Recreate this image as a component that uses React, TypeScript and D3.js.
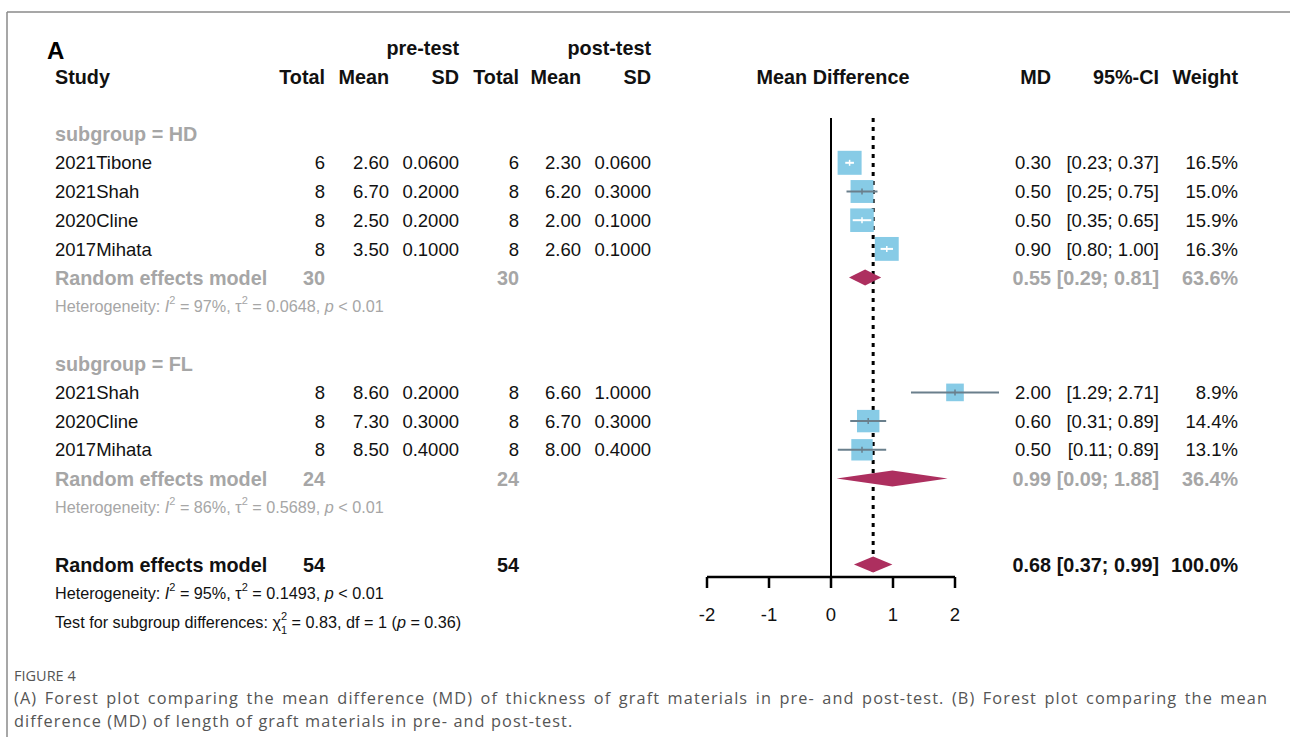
import React from "react";
import * as d3 from "d3";

// ---------- data ----------
const hdStudies = ["2021Tibone", "2021Shah", "2020Cline", "2017Mihata"];
const hdPreTotal = [6, 8, 8, 8];
const hdPreMean = ["2.60", "6.70", "2.50", "3.50"];
const hdPreSD = ["0.0600", "0.2000", "0.2000", "0.1000"];
const hdPostTotal = [6, 8, 8, 8];
const hdPostMean = ["2.30", "6.20", "2.00", "2.60"];
const hdPostSD = ["0.0600", "0.3000", "0.1000", "0.1000"];
const hdMD = [0.3, 0.5, 0.5, 0.9];
const hdLo = [0.23, 0.25, 0.35, 0.8];
const hdHi = [0.37, 0.75, 0.65, 1.0];
const hdWeight = [16.5, 15.0, 15.9, 16.3];

const flStudies = ["2021Shah", "2020Cline", "2017Mihata"];
const flPreTotal = [8, 8, 8];
const flPreMean = ["8.60", "7.30", "8.50"];
const flPreSD = ["0.2000", "0.3000", "0.4000"];
const flPostTotal = [8, 8, 8];
const flPostMean = ["6.60", "6.70", "8.00"];
const flPostSD = ["1.0000", "0.3000", "0.4000"];
const flMD = [2.0, 0.6, 0.5];
const flLo = [1.29, 0.31, 0.11];
const flHi = [2.71, 0.89, 0.89];
const flWeight = [8.9, 14.4, 13.1];

// pooled: [md, lo, hi, weight, totalPre, totalPost]
const hdPooled = [0.55, 0.29, 0.81, 63.6, 30, 30];
const flPooled = [0.99, 0.09, 1.88, 36.4, 24, 24];
const overallPooled = [0.68, 0.37, 0.99, 100.0, 54, 54];

const hdHet = ["97%", "0.0648", "< 0.01"];
const flHet = ["86%", "0.5689", "< 0.01"];
const overallHet = ["95%", "0.1493", "< 0.01"];
const subgroupTest = ["0.83", "1", "0.36"];

const xTicks = [-2, -1, 0, 1, 2];

const captionTitle = "FIGURE 4";
const captionLine1 =
  "(A) Forest plot comparing the mean difference (MD) of thickness of graft materials in pre- and post-test. (B) Forest plot comparing the mean";
const captionLine2 = "difference (MD) of length of graft materials in pre- and post-test.";

// ---------- layout ----------
const W = 1290;
const H = 737;
const FONT = "'Liberation Sans', Arial, sans-serif";
const CAP_FONT = "'Open Sans', sans-serif";
const GRAY = "#a6a6a6";
const BLACK = "#111";
const SQ = "#87cbe6";
const LINE = "#6a7f8c";
const DIAM = "#ad2f5f";
const BOLD_SIZE = 19.8;
const REG_SIZE = 18.5;
const HET_SIZE = 16.2;
const CAP_SIZE = 16.3;
const CAP_LS = 1.1;

const y = d3.scaleLinear().domain([0, 20]).range([48, 622]);
const x = d3.scaleLinear().domain([-2, 2]).range([707, 955]);
const sqScale = d3.scaleSqrt().domain([0, 16.5]).range([0, 24]);

const fmt2 = d3.format(".2f");
const fmt1 = d3.format(".1f");

const COL = {
  study: 55,
  preTotal: 325,
  preMean: 389,
  preSD: 459,
  postTotal: 519,
  postMean: 581,
  postSD: 651,
  md: 1051,
  ci: 1159,
  weight: 1238,
};

function T(props: any) {
  const { x: tx, y: ty, anchor = "end", bold = false, color = BLACK, size, children, ...rest } = props;
  return (
    <text
      x={tx}
      y={ty}
      dy="0.36em"
      textAnchor={anchor}
      fontWeight={bold ? "bold" : "normal"}
      fill={color}
      fontSize={size ?? (bold ? BOLD_SIZE : REG_SIZE)}
      fontFamily={FONT}
      {...rest}
    >
      {children}
    </text>
  );
}

function StudyRow(props: any) {
  const { row, name, pt, pm, ps, qt, qm, qs, md, lo, hi, w } = props;
  const cy = y(row);
  const s = sqScale(w);
  const cx = x(md);
  const inside = x(lo) >= cx - s / 2 && x(hi) <= cx + s / 2;
  return (
    <g>
      <T x={COL.study} y={cy} anchor="start">{name}</T>
      <T x={COL.preTotal} y={cy}>{pt}</T>
      <T x={COL.preMean} y={cy}>{pm}</T>
      <T x={COL.preSD} y={cy}>{ps}</T>
      <T x={COL.postTotal} y={cy}>{qt}</T>
      <T x={COL.postMean} y={cy}>{qm}</T>
      <T x={COL.postSD} y={cy}>{qs}</T>
      <T x={COL.md} y={cy}>{fmt2(md)}</T>
      <T x={COL.ci} y={cy}>{`[${fmt2(lo)}; ${fmt2(hi)}]`}</T>
      <T x={COL.weight} y={cy}>{`${fmt1(w)}%`}</T>
      <rect x={cx - s / 2} y={cy - s / 2} width={s} height={s} fill={SQ} />
      <line x1={x(lo)} x2={x(hi)} y1={cy} y2={cy} stroke={inside ? "#fff" : LINE} strokeWidth={2} />
      <line x1={cx} x2={cx} y1={cy - 3} y2={cy + 3} stroke={inside ? "#fff" : LINE} strokeWidth={1.5} />
    </g>
  );
}

function Diamond(props: any) {
  const { cy, md, lo, hi } = props;
  const h = 8;
  const p = `M${x(lo)},${cy} L${x(md)},${cy - h} L${x(hi)},${cy} L${x(md)},${cy + h} Z`;
  return <path d={p} fill={DIAM} />;
}

function PooledRow(props: any) {
  const { row, pooled, color } = props;
  const cy = y(row);
  const [md, lo, hi, w, tp, tq] = pooled;
  return (
    <g>
      <T x={COL.study} y={cy} anchor="start" bold color={color}>Random effects model</T>
      <T x={COL.preTotal} y={cy} bold color={color}>{tp}</T>
      <T x={COL.postTotal} y={cy} bold color={color}>{tq}</T>
      <T x={COL.md} y={cy} bold color={color}>{fmt2(md)}</T>
      <T x={COL.ci} y={cy} bold color={color}>{`[${fmt2(lo)}; ${fmt2(hi)}]`}</T>
      <T x={COL.weight} y={cy} bold color={color}>{`${fmt1(w)}%`}</T>
      <Diamond cy={cy} md={md} lo={lo} hi={hi} />
    </g>
  );
}

function HetRow(props: any) {
  const { row, het, color } = props;
  const cy = y(row);
  return (
    <text x={COL.study} y={cy} dy="0.36em" fontSize={HET_SIZE} fontFamily={FONT} fill={color}>
      Heterogeneity: <tspan fontStyle="italic">I</tspan>
      <tspan fontSize={11} dy={-8}>2</tspan>
      <tspan dy={8}>{` = ${het[0]}, τ`}</tspan>
      <tspan fontSize={11} dy={-8}>2</tspan>
      <tspan dy={8}>{` = ${het[1]}, `}</tspan>
      <tspan fontStyle="italic">p</tspan>
      <tspan>{` ${het[2]}`}</tspan>
    </text>
  );
}

function measure(text: string, font: string): number {
  if (typeof document === "undefined") return 0;
  const c = document.createElement("canvas");
  const ctx = c.getContext("2d");
  if (!ctx) return 0;
  ctx.font = font;
  return ctx.measureText(text).width;
}

export default function App() {
  const [ws, setWs] = React.useState(0);
  React.useEffect(() => {
    const doIt = () => {
      const nat = measure(captionLine1, `${CAP_SIZE}px 'Open Sans'`) + CAP_LS * captionLine1.length;
      const spaces = captionLine1.split(" ").length - 1;
      const target = 1268 - 14;
      if (nat > 0) setWs((target - nat) / spaces);
    };
    if ((document as any).fonts && (document as any).fonts.load) {
      (document as any).fonts.load(`${CAP_SIZE}px 'Open Sans'`).then(doIt, doIt);
    } else doIt();
  }, []);

  const hdRows = hdStudies.map((n, i) => (
    <StudyRow key={"hd" + i} row={4 + i} name={n} pt={hdPreTotal[i]} pm={hdPreMean[i]} ps={hdPreSD[i]}
      qt={hdPostTotal[i]} qm={hdPostMean[i]} qs={hdPostSD[i]} md={hdMD[i]} lo={hdLo[i]} hi={hdHi[i]} w={hdWeight[i]} />
  ));
  const flRows = flStudies.map((n, i) => (
    <StudyRow key={"fl" + i} row={12 + i} name={n} pt={flPreTotal[i]} pm={flPreMean[i]} ps={flPreSD[i]}
      qt={flPostTotal[i]} qm={flPostMean[i]} qs={flPostSD[i]} md={flMD[i]} lo={flLo[i]} hi={flHi[i]} w={flWeight[i]} />
  ));
  const axisY = 577;
  const topY = 118;
  return (
    <svg width={W} height={H} style={{ position: "absolute", left: 0, top: 0 }}>
      <rect x={0} y={0} width={W} height={H} fill="#fff" />
      {/* frame */}
      <line x1={7} x2={W} y1={12} y2={12} stroke="#8a8a8a" strokeWidth={1.5} />
      <line x1={7} x2={7} y1={12} y2={H} stroke="#8a8a8a" strokeWidth={1.5} />

      <text x={47} y={59} fontSize={24} fontWeight="bold" fontFamily={FONT} fill="#000">A</text>

      {/* headers */}
      <T x={COL.preSD} y={y(0)} bold>pre-test</T>
      <T x={COL.postSD} y={y(0)} bold>post-test</T>
      <T x={COL.study} y={y(1)} bold anchor="start">Study</T>
      <T x={COL.preTotal} y={y(1)} bold>Total</T>
      <T x={COL.preMean} y={y(1)} bold>Mean</T>
      <T x={COL.preSD} y={y(1)} bold>SD</T>
      <T x={COL.postTotal} y={y(1)} bold>Total</T>
      <T x={COL.postMean} y={y(1)} bold>Mean</T>
      <T x={COL.postSD} y={y(1)} bold>SD</T>
      <T x={x(0) + 2} y={y(1)} bold anchor="middle">Mean Difference</T>
      <T x={COL.md} y={y(1)} bold>MD</T>
      <T x={COL.ci} y={y(1)} bold>95%-CI</T>
      <T x={COL.weight} y={y(1)} bold>Weight</T>

      {/* reference lines */}
      <line x1={x(0)} x2={x(0)} y1={topY} y2={axisY} stroke="#000" strokeWidth={2} />
      <line x1={x(overallPooled[0])} x2={x(overallPooled[0])} y1={topY} y2={axisY - 4} stroke="#000" strokeWidth={3} strokeDasharray="4,5" />

      {/* subgroup HD */}
      <T x={COL.study} y={y(3)} anchor="start" bold color={GRAY}>subgroup = HD</T>
      {hdRows}
      <PooledRow row={8} pooled={hdPooled} color={GRAY} />
      <HetRow row={9} het={hdHet} color={GRAY} />

      {/* subgroup FL */}
      <T x={COL.study} y={y(11)} anchor="start" bold color={GRAY}>subgroup = FL</T>
      {flRows}
      <PooledRow row={15} pooled={flPooled} color={GRAY} />
      <HetRow row={16} het={flHet} color={GRAY} />

      {/* overall */}
      <PooledRow row={18} pooled={overallPooled} color={BLACK} />
      <HetRow row={19} het={overallHet} color={BLACK} />
      <text x={COL.study} y={y(20)} dy="0.36em" fontSize={HET_SIZE} fontFamily={FONT} fill={BLACK}>
        Test for subgroup differences: χ
        <tspan fontSize={11} dy={-8}>2</tspan>
        <tspan fontSize={11} dx={-6.1} dy={14}>1</tspan>
        <tspan dy={-6}>{` = ${subgroupTest[0]}, df = ${subgroupTest[1]} (`}</tspan>
        <tspan fontStyle="italic">p</tspan>
        <tspan>{` = ${subgroupTest[2]})`}</tspan>
      </text>

      {/* axis */}
      <line x1={x(-2)} x2={x(2)} y1={axisY} y2={axisY} stroke="#000" strokeWidth={2.5} />
      {xTicks.map((t) => (
        <g key={t}>
          <line x1={x(t)} x2={x(t)} y1={axisY} y2={axisY + 11} stroke="#000" strokeWidth={2.5} />
          <T x={x(t)} y={614} anchor="middle">{String(t)}</T>
        </g>
      ))}

      {/* caption */}
      <text x={14} y={681} fontSize={14.5} fontFamily={CAP_FONT} fill="#555">{captionTitle}</text>
      <text x={14} y={704} fontSize={CAP_SIZE} fontFamily={CAP_FONT} fill="#555" letterSpacing={CAP_LS} wordSpacing={ws}>
        {captionLine1}
      </text>
      <text x={14} y={727} fontSize={CAP_SIZE} fontFamily={CAP_FONT} fill="#555" letterSpacing={CAP_LS}>
        {captionLine2}
      </text>
    </svg>
  );
}
